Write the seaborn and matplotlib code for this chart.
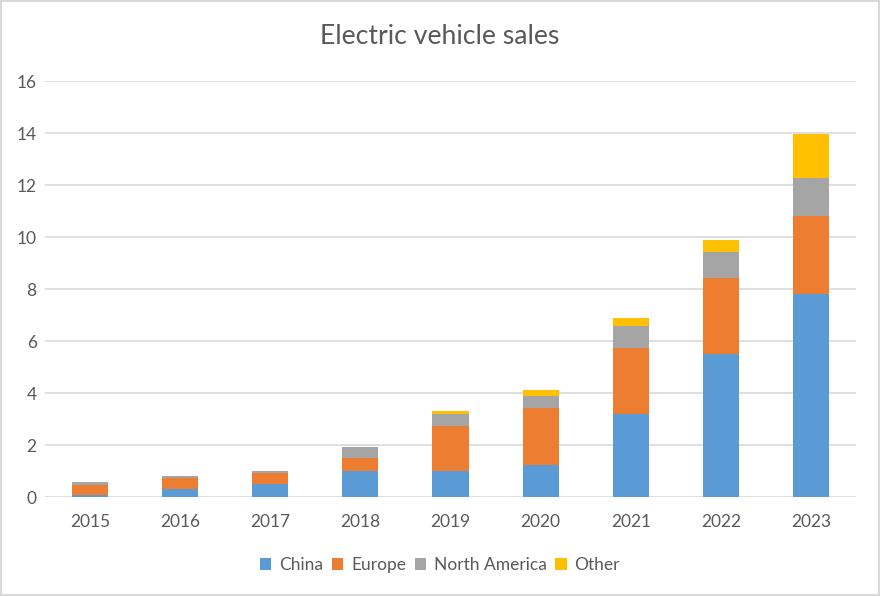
import numpy as np
import pandas as pd
import matplotlib
matplotlib.use("Agg")
import matplotlib.pyplot as plt
import seaborn as sns
from matplotlib.patches import Patch

# values (millions)
years = ["2015", "2016", "2017", "2018", "2019", "2020", "2021", "2022", "2023"]
china = [0.06, 0.29, 0.50, 1.00, 1.00, 1.22, 3.21, 5.49, 7.79]
europe = [0.39, 0.43, 0.41, 0.50, 1.73, 2.20, 2.51, 2.92, 3.00]
north_america = [0.11, 0.07, 0.09, 0.42, 0.48, 0.48, 0.87, 1.00, 1.48]
other = [0.00, 0.00, 0.00, 0.00, 0.08, 0.20, 0.31, 0.48, 1.70]

regions = ["China", "Europe", "North America", "Other"]
colors = ["#5B9BD5", "#ED7D31", "#A5A5A5", "#FFC000"]
text_col = "#595959"

sns.set_theme(style="white")
plt.rcParams['font.family'] = ['Lato', 'DejaVu Sans']

df = pd.DataFrame({"year": years, "China": china, "Europe": europe,
                   "North America": north_america, "Other": other})
# cumulative tops so the stacks can be drawn back to front
cum = df[regions].cumsum(axis=1)

fig = plt.figure(figsize=(8.8, 5.96), dpi=100, edgecolor="#D9D9D9", linewidth=1.5)
ax = fig.add_axes([45 / 880, 1 - 497 / 596, 811 / 880, 416 / 596])

for reg, col in reversed(list(zip(regions, colors))):
    sns.barplot(x=df["year"], y=cum[reg], color=col, width=0.4,
                saturation=1, edgecolor="none", linewidth=0, ax=ax, zorder=2)

ax.set_ylim(0, 16)
ax.set_xlim(-0.5, 8.5)
ax.set_yticks(range(0, 17, 2))
ax.yaxis.grid(True, color="#D9D9D9", linewidth=1.2, zorder=0)
ax.set_axisbelow(True)
for s in ax.spines.values():
    s.set_visible(False)
ax.set_xlabel("")
ax.set_ylabel("")
ax.tick_params(axis="both", length=0, labelsize=12.5, labelcolor=text_col)
ax.tick_params(axis="x", pad=12)
ax.tick_params(axis="y", pad=6)

fig.text(0.5, 1 - 36 / 596, "Electric vehicle sales", ha="center", va="center",
         fontsize=19.2, color=text_col)

handles = [Patch(facecolor=c, edgecolor="none") for c in colors]
fig.legend(handles, regions, loc="center", bbox_to_anchor=(0.5, 1 - 565 / 596),
           ncol=4, frameon=False, fontsize=12.5, labelcolor=text_col,
           handlelength=0.65, handleheight=0.65, handletextpad=0.45, columnspacing=0.5)

fig.savefig("out.png", dpi=100, edgecolor=fig.get_edgecolor())
